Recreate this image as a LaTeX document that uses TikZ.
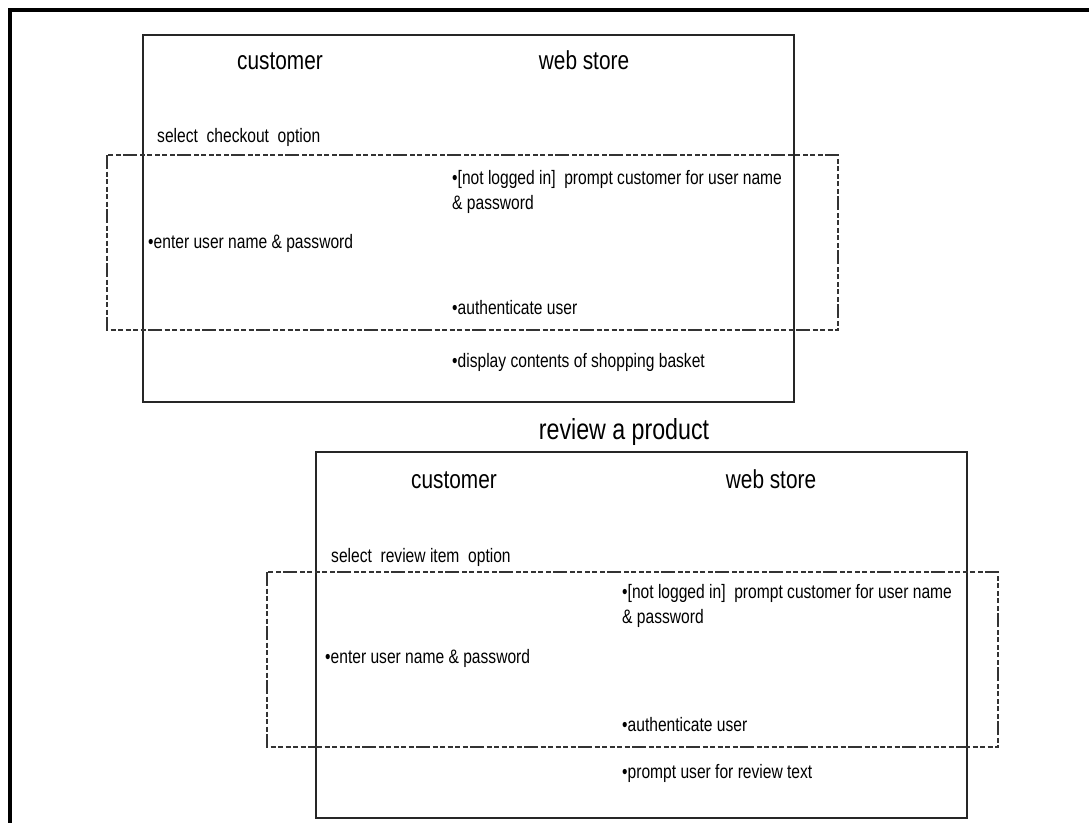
\documentclass[tikz,border=0pt]{standalone}
\usepackage{fontspec}
\setmainfont[FakeStretch=0.8]{Liberation Sans}
\usepackage{tikz}
\usetikzlibrary{positioning}
\tikzset{
    lane/.style={
        draw=black!85,
        line width=1.6pt
    },
    dashbox/.style={
        draw=black!80,
        line width=1.6pt,
        dash pattern=on 14pt off 2.5pt on 5pt off 2.5pt on 5pt off 2.5pt on 5pt off 2.5pt on 5pt off 2.5pt on 5pt off 2.5pt
    },
    step text/.style={
        anchor=west,
        inner sep=0pt,
        font=\fontsize{19.5}{25}\selectfont,
        align=left
    },
    role/.style={
        inner sep=0pt,
        text height=19pt,
        text depth=5pt,
        font=\fontsize{26}{30}\selectfont
    }
}

\begin{document}
\begin{tikzpicture}[
    x=1pt,
    y=-1pt
]
    \useasboundingbox (0,0) rectangle (1089,823);

    % Rahmen
    \draw[line width=4pt] (1089,10) -- (10,10) -- (10,823);

    % Checkout
    \draw[lane] (143,35) rectangle (794,402);
    \draw[dashbox] (107,155) rectangle (838,330);

    \node[role] (cust1) at (280,62) {customer};
    \node[role] (shop1) at (584,62) {web store};

    \node[step text] (sel1)  at (157,137) {select\ \ checkout\ \ option};
    \node[step text] (ask1)  at (452,192) {•[not logged in]\ \ prompt customer for user name\\\& password};
    \node[step text] (ent1)  at (148,243) {•enter user name \& password};
    \node[step text] (auth1) at (452,308) {•authenticate user};
    \node[step text] (disp1) at (452,362) {•display contents of shopping basket};

    % Review
    \node[inner sep=0pt, font=\fontsize{29}{33}\selectfont] (title2) at (624,432) {review a product};

    \draw[lane] (316,452) rectangle (967,818);
    \draw[dashbox] (267,572) rectangle (998,747);

    \node[role] (cust2) at (454,481) {customer};
    \node[role] (shop2) at (771,481) {web store};

    \node[step text] (sel2)  at (331,557) {select\ \ review item\ \ option};
    \node[step text] (ask2)  at (622,606) {•[not logged in]\ \ prompt customer for user name\\\& password};
    \node[step text] (ent2)  at (325,658) {•enter user name \& password};
    \node[step text] (auth2) at (622,725) {•authenticate user};
    \node[step text] (rev2)  at (622,773) {•prompt user for review text};

\end{tikzpicture}
\end{document}
